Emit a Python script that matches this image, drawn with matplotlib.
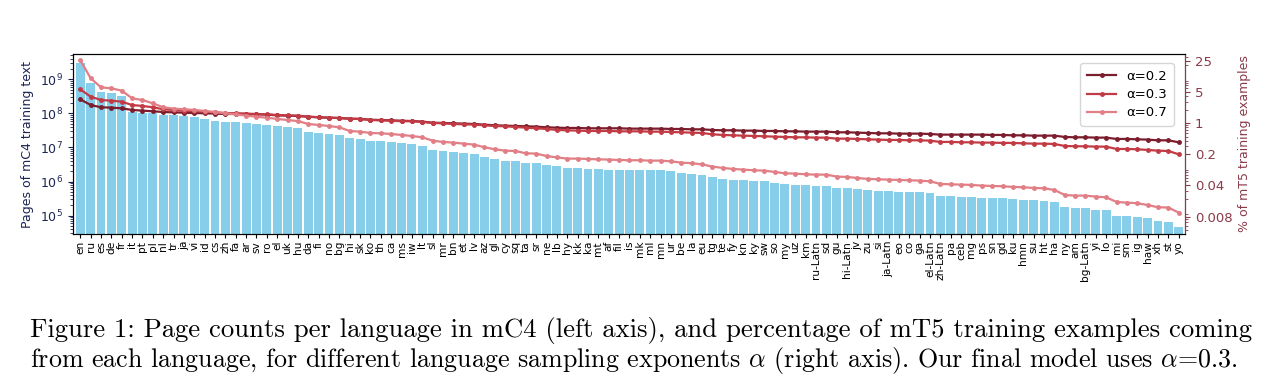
import matplotlib
matplotlib.use("Agg")
import matplotlib.pyplot as plt
import numpy as np
from matplotlib.ticker import FixedLocator, NullFormatter, LogLocator

languages = ["en", "ru", "es", "de", "fr", "it", "pt", "pl", "nl", "tr", "ja", "vi", "id", "cs", "zh",
             "fa", "ar", "sv", "ro", "el", "uk", "hu", "da", "fi", "no", "bg", "hi", "sk", "ko", "th",
             "ca", "ms", "iw", "lt", "sl", "mr", "bn", "et", "lv", "az", "gl", "cy", "sq", "ta", "sr",
             "ne", "lb", "hy", "kk", "ka", "mt", "af", "fil", "is", "mk", "ml", "mn", "ur", "be", "la",
             "eu", "tg", "te", "fy", "kn", "ky", "sw", "so", "my", "uz", "km", "ru-Latn", "sd", "gu",
             "hi-Latn", "jv", "zu", "si", "ja-Latn", "eo", "co", "ga", "el-Latn", "zh-Latn", "pa", "ceb",
             "mg", "ps", "sn", "gd", "ku", "hmn", "su", "ht", "ha", "ny", "am", "bg-Latn", "yi", "lo",
             "mi", "sm", "ig", "haw", "xh", "st", "yo"]

pages = [3.09e9, 7.6e8, 4.17e8, 4.07e8, 3.3e8, 1.12e8, 1.05e8, 1.0e8, 9.0e7, 8.7e7, 8.6e7, 7.7e7, 6.7e7, 6.0e7, 5.6e7,
         5.5e7, 5.2e7, 4.9e7, 4.6e7, 4.4e7, 4.1e7, 3.7e7, 2.9e7, 2.7e7, 2.5e7, 2.3e7, 1.9e7, 1.78e7, 1.55e7, 1.55e7,
         1.45e7, 1.35e7, 1.26e7, 1.1e7, 8.6e6, 8.1e6, 7.4e6, 6.9e6, 6.5e6, 5.4e6, 4.7e6, 4.1e6, 4.1e6, 3.6e6, 3.4e6,
         3.0e6, 2.8e6, 2.5e6, 2.5e6, 2.3e6, 2.3e6, 2.15e6, 2.15e6, 2.15e6, 2.15e6, 2.15e6, 2.15e6, 2.0e6, 1.74e6, 1.63e6,
         1.53e6, 1.33e6, 1.17e6, 1.09e6, 1.09e6, 1.02e6, 1.02e6, 8.9e5, 8.3e5, 7.8e5, 7.8e5, 7.3e5, 7.3e5, 6.3e5,
         6.3e5, 5.9e5, 5.5e5, 5.2e5, 5.2e5, 4.8e5, 4.8e5, 4.8e5, 4.5e5, 3.8e5, 3.8e5, 3.5e5,
         3.5e5, 3.3e5, 3.3e5, 3.3e5, 3.1e5, 2.9e5, 2.9e5, 2.7e5, 2.5e5, 1.8e5, 1.68e5, 1.68e5, 1.47e5, 1.47e5,
         1.0e5, 1.0e5, 9.3e4, 8.7e4, 7.1e4, 6.6e4, 4.8e4]

pct_a02 = [3.41, 2.54, 2.26, 2.22, 2.14, 1.97, 1.90, 1.84, 1.77, 1.74, 1.71, 1.68, 1.66, 1.63, 1.60,
           1.60, 1.60, 1.57, 1.55, 1.49, 1.47, 1.44, 1.39, 1.35, 1.32, 1.30, 1.26, 1.24, 1.19, 1.17,
           1.15, 1.13, 1.11, 1.08, 1.02, 1.006, 0.988, 0.972, 0.955, 0.923, 0.892, 0.876, 0.861, 0.847, 0.832,
           0.804, 0.790, 0.777, 0.777, 0.764, 0.764, 0.764, 0.764, 0.751, 0.751, 0.751, 0.751, 0.738, 0.738, 0.725,
           0.725, 0.70, 0.689, 0.689, 0.677, 0.677, 0.666, 0.666, 0.654, 0.654, 0.643, 0.643, 0.643, 0.621,
           0.621, 0.611, 0.600, 0.590, 0.590, 0.580, 0.580, 0.580, 0.570, 0.551, 0.551, 0.551,
           0.551, 0.551, 0.542, 0.542, 0.532, 0.532, 0.523, 0.523, 0.523, 0.489, 0.480, 0.480, 0.472, 0.472,
           0.441, 0.441, 0.433, 0.426, 0.411, 0.411, 0.371]

pct_a03 = [5.71, 3.91, 3.29, 3.18, 3.02, 2.54, 2.42, 2.26, 2.04, 1.97, 1.90, 1.84, 1.80, 1.74, 1.68,
           1.66, 1.63, 1.60, 1.57, 1.52, 1.49, 1.47, 1.39, 1.35, 1.32, 1.30, 1.24, 1.24, 1.17, 1.15,
           1.13, 1.10, 1.10, 1.06, 1.006, 0.988, 0.955, 0.939, 0.923, 0.892, 0.861, 0.847, 0.818, 0.790, 0.764,
           0.738, 0.701, 0.689, 0.677, 0.666, 0.666, 0.666, 0.654, 0.654, 0.654, 0.643, 0.643, 0.632, 0.621, 0.611,
           0.600, 0.561, 0.542, 0.532, 0.523, 0.514, 0.506, 0.497, 0.489, 0.480, 0.480, 0.472, 0.472, 0.448,
           0.448, 0.441, 0.433, 0.426, 0.419, 0.419, 0.411, 0.411, 0.404, 0.378, 0.378, 0.371,
           0.371, 0.365, 0.365, 0.359, 0.359, 0.352, 0.346, 0.346, 0.340, 0.307, 0.302, 0.302, 0.297, 0.297,
           0.263, 0.263, 0.259, 0.250, 0.241, 0.237, 0.200]

pct_a07 = [25.9, 10.1, 6.33, 6.01, 5.33, 3.59, 3.29, 2.77, 2.26, 2.11, 2.04, 1.97, 1.87, 1.77, 1.66,
           1.57, 1.47, 1.39, 1.32, 1.24, 1.17, 1.11, 0.955, 0.907, 0.861, 0.804, 0.666, 0.643, 0.600, 0.590,
           0.570, 0.542, 0.514, 0.480, 0.404, 0.378, 0.365, 0.346, 0.329, 0.287, 0.259, 0.241, 0.237, 0.210, 0.207,
           0.183, 0.170, 0.160, 0.160, 0.157, 0.154, 0.152, 0.149, 0.147, 0.147, 0.144, 0.144, 0.139, 0.130, 0.126,
           0.119, 0.106, 0.0988, 0.0938, 0.0906, 0.0876, 0.0861, 0.0803, 0.0750, 0.0737, 0.0712, 0.0700, 0.0700, 0.0632,
           0.0621, 0.0589, 0.0560, 0.0550, 0.0541, 0.0532, 0.0523, 0.0514, 0.0496, 0.0433, 0.0425, 0.0418,
           0.0411, 0.0397, 0.0390, 0.0384, 0.0371, 0.0364, 0.0352, 0.0346, 0.0317, 0.0245, 0.0237, 0.0237, 0.0225, 0.0217,
           0.0171, 0.0165, 0.0160, 0.0146, 0.0130, 0.0128, 0.00986]

right_ticks = [25, 5, 1, 0.2, 0.04, 0.008]
right_tick_labels = ["25", "5", "1", "0.2", "0.04", "0.008"]

navy = "#1c2454"
wine = "#8a3a48"

plt.rcParams["mathtext.fontset"] = "cm"

fig = plt.figure(figsize=(12.8, 3.9), dpi=100)
ax = fig.add_axes([0.0568, 0.4, 0.869, 0.4615])
x = np.arange(len(languages))
ax.bar(x, pages, width=0.86, color="#87CEEB", zorder=1)
ax.set_yscale("log")
ax.set_ylim(2.9e4, 5.5e9)
ax.set_xlim(-0.73, len(languages) - 1 + 0.61)
ax.set_xticks(x)
ax.set_xticklabels(languages, rotation=90, fontsize=7.6)
ax.tick_params(axis="x", length=3, pad=2)
ax.tick_params(axis="y", which="major", labelsize=9, colors=navy, length=3.5)
ax.tick_params(axis="y", which="minor", colors=navy, length=2)
ax.yaxis.set_major_locator(LogLocator(base=10, numticks=12))
ax.yaxis.set_minor_locator(LogLocator(base=10, subs=np.arange(2, 10), numticks=12))
ax.set_ylabel("Pages of mC4 training text", color=navy, fontsize=9, labelpad=4)
for s in ax.spines.values():
    s.set_color("black")

ax2 = ax.twinx()
ax2.set_yscale("log")
colors = ["#7b1d2c", "#c23a44", "#e27e85"]
series = [pct_a02, pct_a03, pct_a07]
labels = ["α=0.2", "α=0.3", "α=0.7"]
for vals, c, lab in zip(series, colors, labels):
    ax2.plot(x, vals, color=c, lw=1.6, marker="o", markersize=2.5, label=lab, zorder=3)
ax2.set_ylim(0.00327, 35.3)
ax2.yaxis.set_major_locator(FixedLocator(right_ticks))
ax2.set_yticklabels(right_tick_labels)
ax2.yaxis.set_minor_locator(LogLocator(base=10, subs=np.arange(2, 10), numticks=12))
ax2.yaxis.set_minor_formatter(NullFormatter())
ax2.tick_params(axis="y", which="major", labelsize=9.5, colors=wine, length=3.5)
ax2.tick_params(axis="y", which="minor", colors=wine, length=2)
ax2.spines["right"].set_color(wine)
ax2.set_ylabel("% of mT5 training examples", color=wine, fontsize=9, labelpad=4)
ax2.set_xlim(ax.get_xlim())
leg = ax2.legend(loc="upper right", fontsize=9.5, handlelength=2.2, borderpad=0.5,
                 labelspacing=0.4, bbox_to_anchor=(0.996, 0.985))

fig.text(0.0235, 1 - 330 / 390,
         "Figure 1: Page counts per language in mC4 (left axis), and percentage of mT5 training examples coming",
         ha="left", va="center", family="cmr10", fontsize=19.2, color="black")
fig.text(0.0235, 1 - 360 / 390,
         r"from each language, for different language sampling exponents $\alpha$ (right axis). Our final model uses $\alpha$=0.3.",
         ha="left", va="center", family="cmr10", fontsize=18.7, color="black")

fig.savefig("out.png", dpi=100)
